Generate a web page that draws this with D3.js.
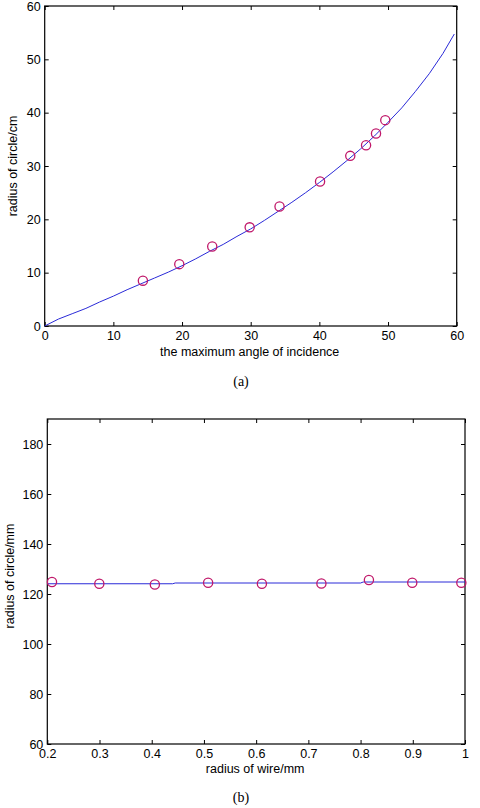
<!DOCTYPE html>
<html><head><meta charset="utf-8">
<script src="https://cdn.jsdelivr.net/npm/d3@7"></script>
<style>body{margin:0;background:#fff}svg{display:block}</style>
</head><body>
<svg id="c" width="480" height="808"></svg>
<script>
// Chart (a)
const aTicksX = [0,10,20,30,40,50,60];
const aTicksY = [0,10,20,30,40,50,60];
const aLineX = [0,2,4,6,8,10,12,14,16,18,20,22,24,26,28,30,32,34,36,38,40,42,44,46,48,50,52,54,56,58,59.65];
const aLineY = [0,1.3,2.3,3.3,4.5,5.6,6.8,7.9,9.0,10.1,11.3,12.6,14.0,15.3,16.8,18.2,19.8,21.5,23.2,25.0,26.9,28.9,31.0,33.2,35.6,38.2,40.9,44.0,47.3,51.1,54.75];
const aPtsX = [14.3,19.6,24.4,29.85,34.2,40.1,44.5,46.8,48.25,49.6];
const aPtsY = [8.5,11.6,14.9,18.5,22.4,27.1,31.9,33.9,36.1,38.6];
// Chart (b)
const bTicksX = [0.2,0.3,0.4,0.5,0.6,0.7,0.8,0.9,1];
const bTicksY = [60,80,100,120,140,160,180];
const bLineX = [0.2,0.44,0.445,0.80,0.805,1.0];
const bLineY = [124.1,124.1,124.4,124.4,124.8,124.8];
const bPtsX = [0.209,0.2996,0.406,0.508,0.611,0.725,0.816,0.899,0.993];
const bPtsY = [124.8,124.1,123.8,124.5,124.1,124.2,125.6,124.5,124.5];

const svg = d3.select("#c");
const font = "'Liberation Sans', Arial, Helvetica, sans-serif";

function panel(cfg){
  const x = d3.scaleLinear().domain(cfg.xd).range([cfg.l, cfg.r]);
  const y = d3.scaleLinear().domain(cfg.yd).range([cfg.b, cfg.t]);
  const g = svg.append("g");
  const tl = 4;
  const ax = g.append("g").attr("transform",`translate(0,${cfg.b})`)
    .call(d3.axisBottom(x).tickValues(cfg.tx).tickSize(-tl).tickPadding(5).tickFormat(d3.format("~g")));
  const at = g.append("g").attr("transform",`translate(0,${cfg.t})`)
    .call(d3.axisTop(x).tickValues(cfg.tx).tickSize(-tl).tickFormat(""));
  const ay = g.append("g").attr("transform",`translate(${cfg.l},0)`)
    .call(d3.axisLeft(y).tickValues(cfg.ty).tickSize(-tl).tickPadding(4).tickFormat(d3.format("~g")));
  const ar = g.append("g").attr("transform",`translate(${cfg.r},0)`)
    .call(d3.axisRight(y).tickValues(cfg.ty).tickSize(-tl).tickFormat(""));
  [ax,at,ay,ar].forEach(a=>{
    a.selectAll(".domain").remove();
    a.selectAll("line").attr("stroke","#000").attr("stroke-width",1);
    a.selectAll("text").attr("font-family",font).attr("font-size",12.5).attr("fill","#000");
  });
  ax.selectAll("text").attr("dy","0.71em");
  g.append("rect").attr("x",cfg.l).attr("y",cfg.t).attr("width",cfg.r-cfg.l).attr("height",cfg.b-cfg.t)
    .attr("fill","none").attr("stroke","#000").attr("stroke-width",1.2);
  const line = d3.line().x(d=>x(d[0])).y(d=>y(d[1]));
  g.append("path").datum(d3.zip(cfg.lx,cfg.ly)).attr("d",line)
    .attr("fill","none").attr("stroke","#2a2ad8").attr("stroke-width",1);
  g.selectAll("circle.p").data(d3.zip(cfg.px,cfg.py)).join("circle")
    .attr("cx",d=>x(d[0])).attr("cy",d=>y(d[1])).attr("r",4.6)
    .attr("fill","none").attr("stroke","#c0186a").attr("stroke-width",1.3);
  g.append("text").attr("x",(cfg.l+cfg.r)/2+cfg.xlOff).attr("y",cfg.xlY).attr("text-anchor","middle")
    .attr("dominant-baseline","middle").attr("font-family",font).attr("font-size",12.5).text(cfg.xl);
  g.append("text").attr("transform",`translate(${cfg.ylX},${cfg.ylY}) rotate(-90)`).attr("text-anchor","middle")
    .attr("dominant-baseline","middle").attr("font-family",font).attr("font-size",12.5).text(cfg.yl);
  g.append("text").attr("x",cfg.capX).attr("y",cfg.capY).attr("text-anchor","middle")
    .attr("dominant-baseline","middle").attr("font-family","'Liberation Serif', 'Times New Roman', serif")
    .attr("font-size",14).text(cfg.cap);
}

panel({xd:[0,60], yd:[0,60], l:44.7, r:456.7, t:6, b:326, tx:aTicksX, ty:aTicksY,
  lx:aLineX, ly:aLineY, px:aPtsX, py:aPtsY,
  xl:"the maximum angle of incidence", xlY:353, xlOff:-1,
  yl:"radius of circle/cm", ylX:14, ylY:166, cap:"(a)", capX:241, capY:383});
panel({xd:[0.2,1], yd:[60,190], l:47.3, r:465, t:419, b:744, tx:bTicksX, ty:bTicksY,
  lx:bLineX, ly:bLineY, px:bPtsX, py:bPtsY,
  xl:"radius of wire/mm", xlY:770, xlOff:-1,
  yl:"radius of circle/mm", ylX:11, ylY:576, cap:"(b)", capX:241, capY:799});
</script>
</body></html>
